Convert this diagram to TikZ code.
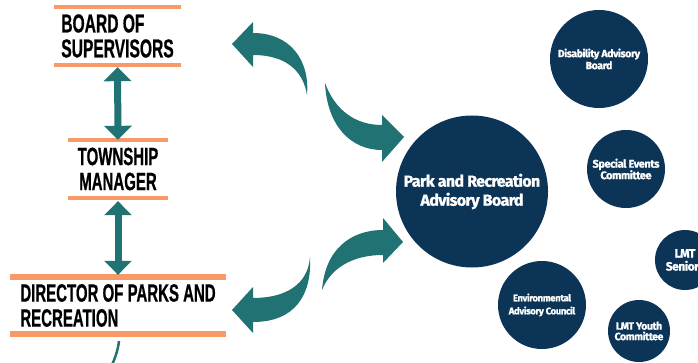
\documentclass[tikz,border=0pt]{standalone}
\usepackage{fontspec}
\usetikzlibrary{arrows.meta}
\newfontfamily\headfont{Liberation Sans}[FakeStretch=0.6, BoldFeatures={FakeBold=0.6}]
\newfontfamily\circfont{Fira Sans}[LetterSpace=-4, BoldFeatures={FakeBold=1.2}]
\definecolor{arrteal}{HTML}{217272}
\definecolor{navyc}{HTML}{0B3457}
\definecolor{orangec}{HTML}{F89A68}
\tikzset{
  title/.style={inner sep=0pt, align=left, text=black},
  oline/.style={draw=orangec, line width=4pt},
  olinethick/.style={draw=orangec, line width=5.5pt},
  varrow/.style={draw=arrteal, line width=7pt,
     {Triangle[width=27pt,length=14pt]}-{Triangle[width=27pt,length=14pt]}},
  curvearrow/.style={fill=arrteal, draw=none},
  bubble/.style={circle, fill=navyc, text=white, inner sep=0pt, align=center,
     font={\circfont\bfseries}},
}
\begin{document}
\begin{tikzpicture}[x=1pt, y=-1pt]
\useasboundingbox (0,0) rectangle (698,363);
\clip (0,0) rectangle (698,363);

% hierarchy boxes
\node[title, minimum width=127pt, minimum height=58pt,
      font={\headfont\bfseries\fontsize{26}{25}\selectfont}]
  (board) at (117.5,36) {BOARD OF\\SUPERVISORS};
\node[title, minimum width=100pt, minimum height=58pt, align=center,
      font={\headfont\bfseries\fontsize{25}{25}\selectfont}]
  (township) at (118,169) {TOWNSHIP\\MANAGER};
\node[title, minimum width=216pt, minimum height=57pt,
      font={\headfont\bfseries\fontsize{25}{25}\selectfont}]
  (director) at (118,305.5) {DIRECTOR OF PARKS AND\\RECREATION};

\draw[oline] (board.north west) -- (board.north east);
\draw[oline] (board.south west) -- (board.south east);
\draw[oline] (township.north west) -- (township.north east);
\draw[oline] (township.south west) -- (township.south east);
\draw[olinethick] (director.north west) -- (director.north east);
\draw[olinethick] (director.south west) -- (director.south east);

\draw[varrow] ([yshift=-2pt]board.south) -- (township.north);
\draw[varrow] ([yshift=-3pt]township.south) -- ([yshift=2pt]director.north);

% circles
\node[bubble, minimum size=152pt, font={\circfont\bfseries\fontsize{16}{19}\selectfont}]
  (park) at (472,191.5) {Park and Recreation\\Advisory Board};
\node[bubble, minimum size=98pt, font={\circfont\bfseries\fontsize{10.5}{12}\selectfont}]
  (disab) at (599,59) {Disability Advisory\\Board};
\node[bubble, minimum size=78pt, font={\circfont\bfseries\fontsize{11}{11.5}\selectfont}]
  (special) at (626,169) {Special Events\\Committee};
\node[bubble, minimum size=60pt, font={\circfont\bfseries\fontsize{12}{13}\selectfont}]
  (seniors) at (685,260) {LMT\\Seniors};
\node[bubble, minimum size=88pt, font={\circfont\bfseries\fontsize{9.5}{13}\selectfont}]
  (env) at (542,305) {Environmental\\Advisory Council};
\node[bubble, minimum size=62pt, font={\circfont\bfseries\fontsize{10.5}{10.5}\selectfont}]
  (youth) at (639,331) {LMT Youth\\Committee};

% curved arrows
\fill[curvearrow] (307,95) .. controls (310,60) and (290,33) .. (253,33)
  -- (253,22) -- (232,44) -- (253,67) -- (253,55)
  .. controls (285,55) and (303,70) .. (307,95) -- cycle;
\fill[curvearrow] (325,83) .. controls (327,125) and (350,150) .. (382,150)
  -- (382,162) -- (404,137) -- (382,115) -- (382,125)
  .. controls (355,125) and (335,110) .. (325,83) -- cycle;
\fill[curvearrow] (322,290) .. controls (325,250) and (350,230) .. (383,230)
  -- (383,218) -- (403,242) -- (383,263) -- (383,255)
  .. controls (350,255) and (330,270) .. (322,290) -- cycle;
\fill[curvearrow] (310,257) .. controls (308,285) and (285,298) .. (253,298)
  -- (253,287) -- (232,310) -- (253,333) -- (253,322)
  .. controls (295,322) and (312,295) .. (310,257) -- cycle;

% tail below director
\coordinate (tailtop) at (119,341);
\coordinate (tailbot) at (112,365);
\draw[arrteal, line width=2.5pt] (tailtop) .. controls (118,350) and (115,358) .. (tailbot);
\end{tikzpicture}
\end{document}
